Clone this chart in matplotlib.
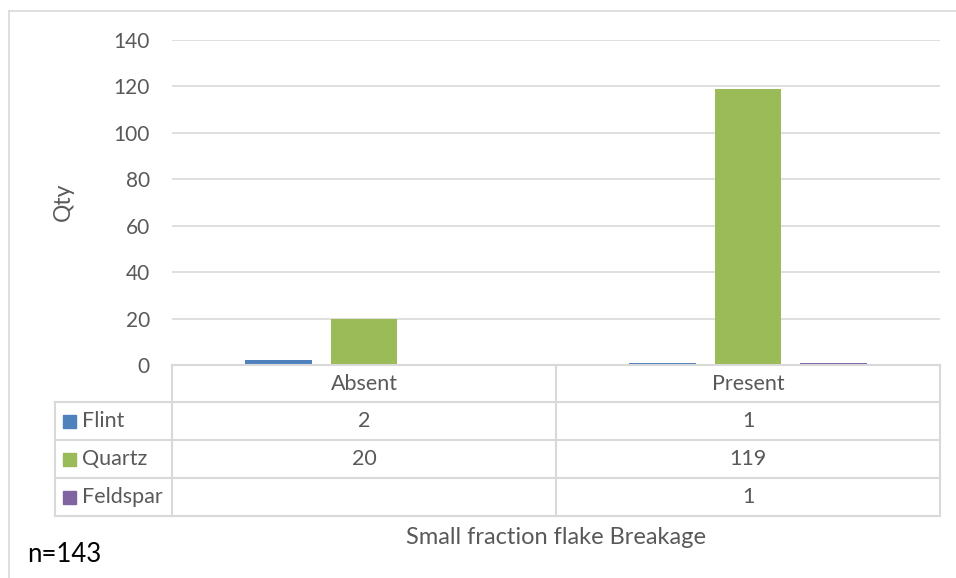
import matplotlib
matplotlib.use("Agg")
import matplotlib.pyplot as plt
import numpy as np
from matplotlib.lines import Line2D
from matplotlib.patches import Rectangle
from matplotlib.transforms import Affine2D

# data
categories = ["Absent", "Present"]
series_names = ["Flint", "Quartz", "Feldspar"]
flint = [2, 1]
quartz = [20, 119]
feldspar = [np.nan, 1]
series_values = [flint, quartz, feldspar]
colors = ["#4F81BD", "#9BBB59", "#8064A2"]
yticks = [0, 20, 40, 60, 80, 100, 120, 140]

plt.rcParams["font.family"] = ["Lato", "DejaVu Sans"]
txt = "#595959"
grid = "#D9D9D9"

W, H = 956, 578
fig = plt.figure(figsize=(W / 100, H / 100), dpi=100)
# pixel coords, y measured from the top
pix = Affine2D().scale(1 / W, -1 / H).translate(0, 1) + fig.transFigure

# plot area in pixels
x0, x1, ytop, ybot = 172, 940, 40, 365
ax = fig.add_axes([x0 / W, 1 - ybot / H, (x1 - x0) / W, (ybot - ytop) / H])

n = len(categories)
xs = np.arange(n)
width = 0.174
step = 0.223
for i, (name, vals) in enumerate(zip(series_names, series_values)):
    ax.bar(xs + (i - 1) * step, vals, width, color=colors[i], zorder=3)

ax.set_xlim(-0.5, n - 0.5)
ax.set_ylim(0, 140)
ax.set_yticks(yticks)
ax.set_xticks([])
ax.tick_params(axis="y", length=0, pad=16, labelsize=15, labelcolor=txt)
ax.yaxis.grid(True, color=grid, linewidth=1.2)
for s in ax.spines.values():
    s.set_visible(False)
fig.text(63, 202, "Qty", transform=pix, rotation=90, ha="center", va="center",
         fontsize=16.5, color=txt)

# outer chart border (top and left only are visible)
fig.add_artist(Line2D([9, W], [11, 11], transform=pix, color=grid, lw=1.2))
fig.add_artist(Line2D([9, 9], [11, H], transform=pix, color=grid, lw=1.2))

# data table under the plot
colw = (x1 - x0) / n
row_y = [365, 402, 440, 478, 516]
tleft = 55
lw = 1.5
fs = 15.5
# horizontal lines
fig.add_artist(Line2D([x0, x1], [row_y[0], row_y[0]], transform=pix, color=grid, lw=lw))
for y in row_y[1:]:
    fig.add_artist(Line2D([tleft, x1], [y, y], transform=pix, color=grid, lw=lw))
# vertical lines
fig.add_artist(Line2D([tleft, tleft], [row_y[1], row_y[-1]], transform=pix, color=grid, lw=lw))
for k in range(n + 1):
    xv = x0 + k * colw
    fig.add_artist(Line2D([xv, xv], [row_y[0], row_y[-1]], transform=pix, color=grid, lw=lw))

# header
for k, c in enumerate(categories):
    fig.text(x0 + (k + 0.5) * colw, (row_y[0] + row_y[1]) / 2, c, transform=pix,
             ha="center", va="center", fontsize=fs, color=txt)

# rows
for i, (name, vals) in enumerate(zip(series_names, series_values)):
    yc = (row_y[i + 1] + row_y[i + 2]) / 2
    fig.add_artist(Rectangle((63, yc - 6.5), 13, 13, transform=pix, color=colors[i]))
    fig.text(82, yc, name, transform=pix, ha="left", va="center", fontsize=fs, color=txt)
    for k, v in enumerate(vals):
        if not np.isnan(v):
            fig.text(x0 + (k + 0.5) * colw, yc, f"{v:g}", transform=pix,
                     ha="center", va="center", fontsize=fs, color=txt)

fig.text((x0 + x1) / 2, 538, "Small fraction flake Breakage", transform=pix,
         ha="center", va="center", fontsize=17, color=txt)
fig.text(27, 555, "n=143", transform=pix, ha="left", va="center", fontsize=18.5, color="black")

fig.savefig("out.png", dpi=100)
